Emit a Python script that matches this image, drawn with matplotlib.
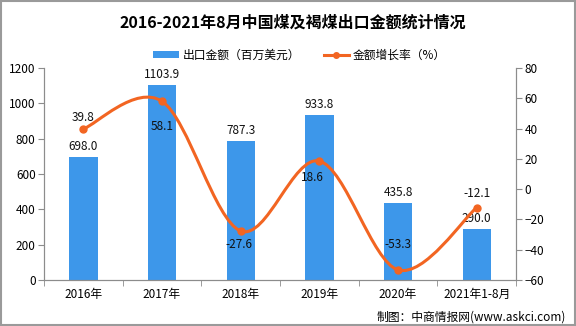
import matplotlib
matplotlib.use("Agg")
import matplotlib.pyplot as plt
import numpy as np
from matplotlib.path import Path
from matplotlib.patches import PathPatch, Rectangle, Patch
from matplotlib.lines import Line2D

plt.rcParams['font.family'] = ['Noto Sans CJK SC', 'DejaVu Sans']

years = ["2016年", "2017年", "2018年", "2019年", "2020年", "2021年1-8月"]
export_value = [698.0, 1103.9, 787.3, 933.8, 435.8, 290.0]
growth_rate = [39.8, 58.1, -27.6, 18.6, -53.3, -12.1]

bar_color = "#3d97ea"
line_color = "#f26522"
grey = "#8c8c8c"

fig = plt.figure(figsize=(5.76, 3.26), dpi=100)
ax = fig.add_axes([0.0764, 0.141, 0.8196, 0.650])
ax2 = ax.twinx()

x = np.arange(len(years))
ax.bar(x, export_value, width=0.36, color=bar_color, zorder=2)
ax.set_xlim(-0.5, len(years) - 0.5)
ax.set_ylim(0, 1200)
ax.set_yticks(np.arange(0, 1201, 200))
ax2.set_ylim(-60, 80)
ax2.set_yticks(np.arange(-60, 81, 20))

# smooth line (cubic bezier through the points, like Excel's smoothed line)
pts = np.column_stack([x, growth_rate]).astype(float)
verts = [tuple(pts[0])]
codes = [Path.MOVETO]
n = len(pts)
for i in range(n - 1):
    p0 = pts[max(i - 1, 0)]
    p1 = pts[i]
    p2 = pts[i + 1]
    p3 = pts[min(i + 2, n - 1)]
    c1 = p1 + (p2 - p0) / 6
    c2 = p2 - (p3 - p1) / 6
    verts += [tuple(c1), tuple(c2), tuple(p2)]
    codes += [Path.CURVE4] * 3
ax2.add_patch(PathPatch(Path(verts, codes), facecolor="none",
                        edgecolor=line_color, lw=2.2, zorder=3))
ax2.plot(x, growth_rate, 'o', color=line_color, ms=5, zorder=4)

# labels
for xi, v in zip(x, export_value):
    ax.annotate(f"{v:.1f}", (xi, v), xytext=(0, 3), textcoords="offset points",
                ha="center", va="bottom", fontsize=8.5, color="#111111")
line_offsets = [(0, 8.6), (0, -18.5), (-1, -9.5), (-5, -12), (0, 18.5), (0, 10)]
for xi, v, off in zip(x, growth_rate, line_offsets):
    ax2.annotate(f"{v:.1f}", (xi, v), xytext=off, textcoords="offset points",
                 ha="center", va="center", fontsize=8.5, color="#111111")

# axes styling
for a in (ax, ax2):
    a.spines['top'].set_visible(False)
    for s in ('left', 'right', 'bottom'):
        a.spines[s].set_color(grey)
ax.set_xticks(x)
ax.set_xticklabels(years, fontsize=8.5)
ax.tick_params(axis='x', length=0, pad=6)
ax.set_xticks(np.arange(-0.5, len(years), 1), minor=True)
ax.tick_params(axis='x', which='minor', length=4, color=grey)
ax.tick_params(axis='y', length=4, color=grey, labelsize=8.5, pad=2)
ax2.tick_params(axis='y', length=4, color=grey, labelsize=8.5, pad=2)

# title & legend
fig.text(0.508, 0.93, "2016-2021年8月中国煤及褐煤出口金额统计情况",
         ha="center", va="center", fontsize=11.5, fontweight="bold")
handles = [Patch(facecolor=bar_color, edgecolor="none"),
           Line2D([0], [0], color=line_color, lw=2.2, marker='o', ms=4)]
fig.legend(handles, ["出口金额（百万美元）", "金额增长率（%）"], loc="center",
           bbox_to_anchor=(0.52, 0.831), ncol=2, frameon=False, fontsize=8.5,
           handlelength=2.2, handleheight=0.5, columnspacing=2.0, handletextpad=0.3)

fig.text(0.983, 0.028, "制图：中商情报网(www.askci.com)", ha="right", va="center",
         fontsize=8.5)

fig.patches.append(Rectangle((0.002, 0.003), 0.996, 0.994, transform=fig.transFigure,
                             fill=False, edgecolor="#9a9a9a", lw=1.5))

fig.savefig("out.png", dpi=100)
